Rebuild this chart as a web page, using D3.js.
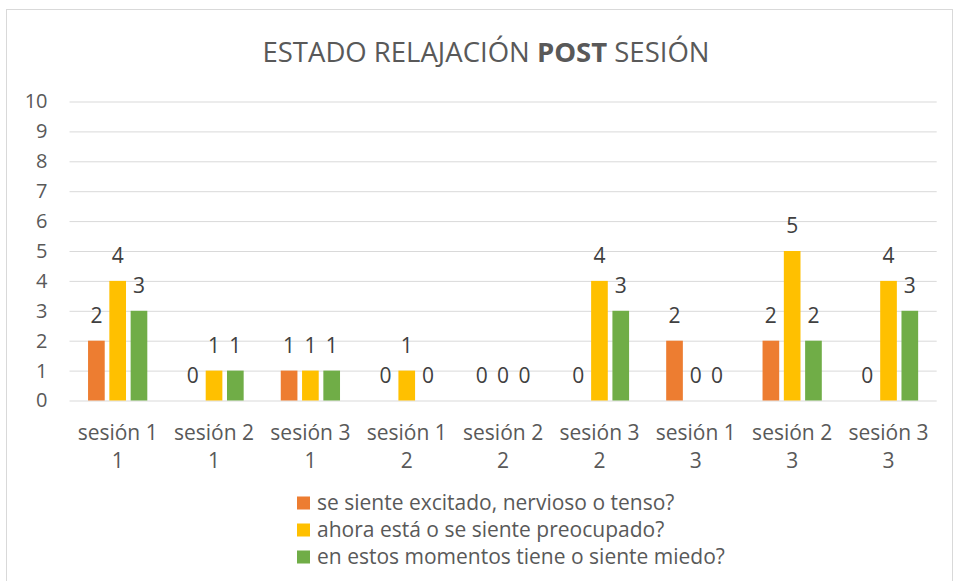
<!DOCTYPE html>
<html><head><meta charset="utf-8">
<script src="https://cdn.jsdelivr.net/npm/d3@7"></script>
<style>html,body{margin:0;padding:0;background:#fff;}svg{display:block;}</style>
</head><body>
<svg id="chart" width="955" height="581"></svg>
<script>
const categories = [
  ["sesión 1","1"],["sesión 2","1"],["sesión 3","1"],
  ["sesión 1","2"],["sesión 2","2"],["sesión 3","2"],
  ["sesión 1","3"],["sesión 2","3"],["sesión 3","3"]
];
const seriesNames = [
  "se siente excitado, nervioso o tenso?",
  "ahora está o se siente preocupado?",
  "en estos momentos tiene o siente miedo?"
];
const excitado = [2,0,1,0,0,0,2,2,0];
const preocupado = [4,1,1,1,0,4,0,5,4];
const miedo = [3,1,1,0,0,3,0,2,3];
const yTicks = [0,1,2,3,4,5,6,7,8,9,10];
const colors = ["#ED7D31","#FFC000","#70AD47"];
const seriesValues = [excitado, preocupado, miedo];

const FONT = "'Open Sans', 'Noto Sans', sans-serif";
const svg = d3.select("#chart");
svg.append("rect").attr("x",6.5).attr("y",9.5).attr("width",946).attr("height",580)
  .attr("fill","#fff").attr("stroke","#D9D9D9");

const pL = 69.5, pR = 936.7, pT = 101.5, pB = 400.5;
const x = d3.scaleBand().domain(d3.range(categories.length)).range([pL,pR]).paddingInner(0).paddingOuter(0);
const y = d3.scaleLinear().domain([0,10]).range([pB,pT]);
const barW = x.bandwidth()*0.173, step = x.bandwidth()*0.221;

// title
const title = svg.append("text").attr("x",486).attr("y",61.5).attr("text-anchor","middle")
  .attr("font-family",FONT).attr("font-size",27.5).attr("fill","#595959");
title.append("tspan").text("ESTADO RELAJACIÓN ");
title.append("tspan").attr("font-weight","bold").text("POST");
title.append("tspan").text(" SESIÓN");

// grid
const yAxis = d3.axisLeft(y).tickValues(yTicks).tickSize(-(pR-pL)).tickFormat(d3.format("d")).tickPadding(22);
const gy = svg.append("g").attr("transform",`translate(${pL},0)`).call(yAxis);
gy.select(".domain").remove();
gy.selectAll(".tick line").attr("stroke","#D9D9D9").attr("stroke-width",1);
gy.selectAll(".tick text").attr("font-family",FONT).attr("font-size",20).attr("fill","#595959");

// bars
seriesValues.forEach((vals,s)=>{
  const g = svg.append("g");
  g.selectAll("rect").data(vals).join("rect")
    .attr("x",(d,i)=>x(i)+x.bandwidth()/2+(s-1)*step-barW/2)
    .attr("y",d=>y(d)).attr("width",barW).attr("height",d=>y(0)-y(d))
    .attr("fill",colors[s]);
  g.selectAll("text").data(vals).join("text")
    .attr("x",(d,i)=>x(i)+x.bandwidth()/2+(s-1)*step)
    .attr("y",d=>y(d)-18).attr("text-anchor","middle")
    .attr("font-family",FONT).attr("font-size",21).attr("fill","#404040")
    .text(d=>d);
});

// x labels
const xAxis = d3.axisBottom(x).tickSize(0).tickFormat(()=>"");
const gx = svg.append("g").attr("transform",`translate(0,${pB})`).call(xAxis);
gx.select(".domain").remove();
gx.selectAll(".tick").each(function(d){
  const t = d3.select(this).append("text").attr("text-anchor","middle")
    .attr("font-family",FONT).attr("font-size",21).attr("fill","#595959");
  t.append("tspan").attr("x",0).attr("y",39).text(categories[d][0]);
  t.append("tspan").attr("x",0).attr("y",67.5).text(categories[d][1]);
});

// legend
const lg = svg.append("g");
seriesNames.forEach((n,i)=>{
  const yy = 503 + i*27;
  lg.append("rect").attr("x",297).attr("y",yy-6.5).attr("width",13).attr("height",13).attr("fill",colors[i]);
  lg.append("text").attr("x",317).attr("y",yy+7).attr("font-family",FONT).attr("font-size",21)
    .attr("fill","#595959").text(n);
});
</script>
</body></html>
